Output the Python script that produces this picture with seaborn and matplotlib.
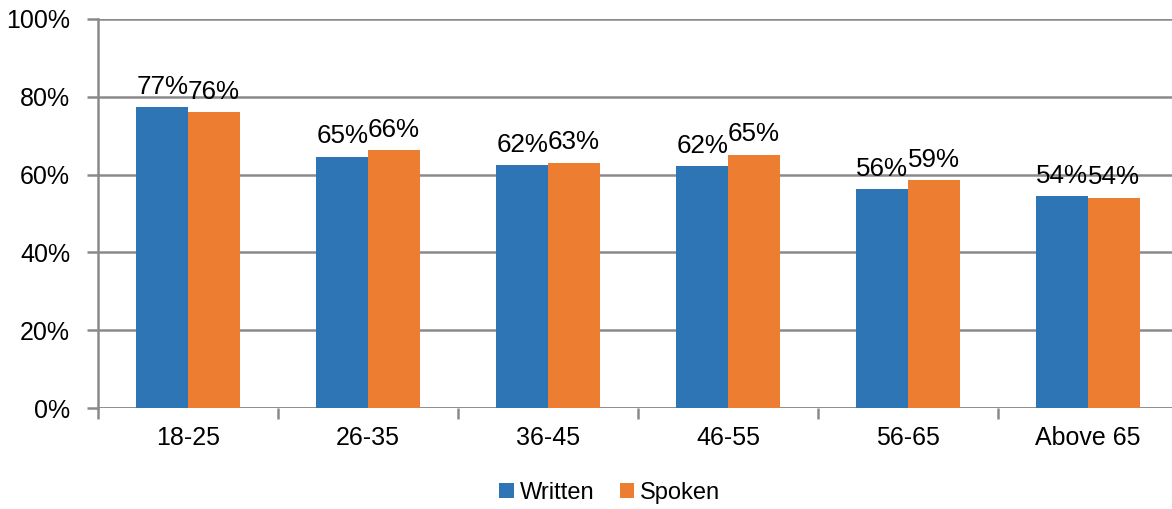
import matplotlib
matplotlib.use("Agg")
import matplotlib.pyplot as plt
import seaborn as sns
import pandas as pd
import numpy as np
from matplotlib.ticker import FixedLocator, PercentFormatter

categories = ["18-25", "26-35", "36-45", "46-55", "56-65", "Above 65"]
written = [77.3, 64.6, 62.4, 62.2, 56.2, 54.4]
spoken = [76.0, 66.2, 63.1, 65.1, 58.6, 54.1]
series = ["Written", "Spoken"]
colors = ["#2E75B6", "#ED7D31"]

df = pd.DataFrame({
    "Age": categories * 2,
    "Value": written + spoken,
    "Series": ["Written"] * len(categories) + ["Spoken"] * len(categories),
})

sns.set_theme(style="white")
plt.rcParams["font.family"] = ["Liberation Sans", "DejaVu Sans"]

fig = plt.figure(figsize=(11.72, 5.09), dpi=100)
ax = fig.add_axes([98 / 1172, 1 - 408 / 509, 1080 / 1172, 389 / 509])

sns.barplot(data=df, x="Age", y="Value", hue="Series", order=categories,
            hue_order=series, palette=colors, width=0.575, gap=0,
            linewidth=0, saturation=1, ax=ax, legend=True)

for cont, vals in zip(ax.containers, [written, spoken]):
    ax.bar_label(cont, labels=[f"{round(v):.0f}%" for v in vals],
                 padding=6, fontsize=18.7, color="#000000")

gray = "#8A8A8A"
ax.set_ylim(0, 100)
ax.set_xlim(-0.5, len(categories) - 0.5)
ax.yaxis.set_major_locator(FixedLocator([0, 20, 40, 60, 80, 100]))
ax.yaxis.set_major_formatter(PercentFormatter(decimals=0))
ax.grid(axis="y", color=gray, linewidth=1.8)
ax.set_axisbelow(True)
for s in ["top", "right", "bottom"]:
    ax.spines[s].set_visible(False)
ax.spines["left"].set_color(gray)
ax.spines["left"].set_linewidth(1.8)
ax.axhline(0, color=gray, linewidth=1.8, zorder=0.5)

ax.set_xlabel("")
ax.set_ylabel("")
ax.tick_params(axis="y", which="major", length=8, width=1.8, color=gray,
               direction="out", labelsize=18, labelcolor="#000000", pad=12, left=True)
ax.tick_params(axis="x", which="major", length=0, labelsize=18,
               labelcolor="#000000", pad=13)
ax.set_xticks(np.arange(-0.5, len(categories), 1.0), minor=True)
ax.tick_params(axis="x", which="minor", length=8, width=1.8, color=gray,
               direction="out", bottom=True)

leg = ax.legend(loc="upper center", bbox_to_anchor=(0.474, -0.165), ncol=2,
                frameon=False, fontsize=17, handlelength=0.6, handleheight=0.6,
                handletextpad=0.25, columnspacing=1.1, borderaxespad=0)
for t in leg.get_texts():
    t.set_color("#000000")

fig.savefig("out.png", dpi=100)
